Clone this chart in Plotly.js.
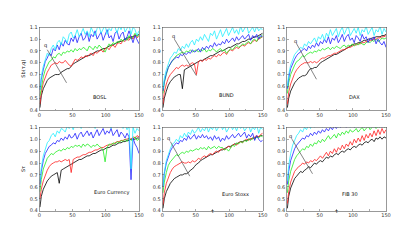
<!DOCTYPE html>
<html><head><meta charset="utf-8">
<script src="https://cdn.plot.ly/plotly-3.0.1.min.js"></script>
<style>html,body{margin:0;padding:0;background:#fff}#c{width:415px;height:243px}</style>
</head><body><div id="c"></div>
<script>
const T = [1,3,6,9,12,15,18,21,24,27,30,33,36,39,42,45,48,51,54,57,60,63,66,69,72,75,78,81,84,87,90,93,96,99,102,105,108,111,114,117,120,123,126,129,132,135,138,141,144,147,150];
const panelNames = ["BOSL","BUND","DAX","Euro Currency","Euro Stoxx","FIB 30"];
const seriesColors = ["#000000","#ff2020","#22ee22","#2020ff","#22eeff"];

// BOSL
const k1 = [0.42,0.52,0.58,0.62,0.65,0.67,0.68,0.69,0.70,0.70, 0.70,0.72,0.73,0.74,0.75,0.75,0.77,0.79,0.80,0.81, 0.82,0.83,0.84,0.85,0.86,0.86,0.87,0.88,0.89,0.90, 0.90,0.91,0.92,0.92,0.93,0.94,0.95,0.95,0.96,0.97, 0.98,0.98,0.99,1.00,1.01,1.01,1.02,1.02,1.03,1.03, 1.04];
const r1 = [0.45,0.55,0.63,0.68,0.72,0.75,0.78,0.79,0.80,0.79, 0.81,0.80,0.80,0.82,0.80,0.78,0.77,0.80,0.83,0.82, 0.83,0.85,0.84,0.86,0.85,0.87,0.88,0.86,0.89,0.88, 0.90,0.91,0.89,0.92,0.93,0.91,0.94,0.95,0.93,0.96, 0.97,0.96,0.99,0.98,1.00,0.99,1.02,1.00,1.04,1.01, 1.03];
const g1 = [0.52,0.60,0.68,0.74,0.78,0.81,0.82,0.85,0.84,0.87, 0.88,0.86,0.89,0.88,0.90,0.89,0.91,0.89,0.92,0.90, 0.92,0.91,0.93,0.92,0.90,0.94,0.93,0.91,0.94,0.92, 0.95,0.93,0.91,0.89,0.93,0.96,0.94,0.97,0.96,0.98, 0.97,1.00,0.98,1.01,0.99,1.03,1.00,1.02,1.05,1.02, 1.04];
const b1 = [0.57,0.66,0.74,0.81,0.84,0.88,0.86,0.92,0.90,0.95, 0.91,0.97,0.94,0.99,0.96,0.95,1.01,0.98,1.03,0.97, 1.02,1.05,0.99,1.01,1.06,0.98,1.04,1.02,1.07,1.00, 1.03,1.06,0.99,1.04,1.08,1.01,1.03,0.98,1.05,1.07, 1.00,1.04,1.06,0.99,1.02,1.07,1.01,0.97,1.03,0.99, 0.96];
const c1 = [0.58,0.69,0.77,0.83,0.88,0.86,0.92,0.95,0.91,0.97, 0.99,0.95,1.02,1.00,0.97,1.04,1.06,1.01,1.03,1.08, 1.02,1.05,1.09,1.04,1.07,1.02,1.10,1.06,1.03,1.09, 1.11,1.05,1.08,1.12,1.04,1.09,1.07,1.12,1.10,1.05, 1.11,1.08,1.13,1.06,1.09,1.12,1.04,1.10,1.08,1.03, 1.07];
// BUND
const k2 = [0.42,0.50,0.56,0.61,0.64,0.66,0.68,0.69,0.70,0.70, 0.58,0.74,0.75,0.76,0.77,0.78,0.79,0.80,0.81,0.82, 0.82,0.83,0.84,0.85,0.86,0.86,0.87,0.88,0.89,0.90, 0.90,0.91,0.92,0.93,0.93,0.94,0.95,0.96,0.96,0.97, 0.98,0.98,0.99,1.00,1.00,1.01,1.02,1.02,1.03,1.04, 1.05];
const r2 = [0.45,0.55,0.62,0.67,0.70,0.72,0.74,0.76,0.75,0.77, 0.78,0.77,0.78,0.77,0.79,0.80,0.79,0.70,0.81,0.82, 0.81,0.83,0.82,0.84,0.83,0.85,0.86,0.85,0.87,0.86, 0.88,0.89,0.87,0.90,0.91,0.90,0.92,0.93,0.92,0.94, 0.95,0.94,0.96,0.97,0.96,0.98,0.99,0.98,1.00,1.01, 1.02];
const g2 = [0.54,0.63,0.70,0.76,0.79,0.82,0.84,0.86,0.87,0.88, 0.89,0.88,0.90,0.89,0.91,0.89,0.90,0.91,0.89,0.91, 0.90,0.92,0.89,0.91,0.90,0.92,0.91,0.89,0.91,0.92, 0.90,0.91,0.88,0.90,0.92,0.91,0.93,0.95,0.93,0.94, 0.96,0.95,0.97,0.98,0.96,0.99,1.00,0.98,1.02,1.01, 1.04];
const b2 = [0.56,0.64,0.71,0.76,0.79,0.82,0.83,0.85,0.84,0.87, 0.86,0.88,0.87,0.89,0.88,0.91,0.89,0.90,0.92,0.89, 0.93,0.91,0.94,0.92,0.95,0.93,0.97,0.94,0.96,0.95, 0.98,0.96,1.00,0.97,0.99,1.01,0.98,1.02,0.99,1.01, 1.03,1.00,1.02,1.04,0.99,1.03,1.01,1.04,1.00,1.03, 1.02];
const c2 = [0.58,0.67,0.74,0.79,0.84,0.86,0.89,0.88,0.92,0.90, 0.94,0.92,0.96,0.93,0.97,0.99,0.95,1.00,0.98,1.02, 0.99,1.04,1.01,0.98,1.05,1.03,1.07,1.00,1.04,1.08, 1.02,1.06,1.09,1.03,1.07,1.10,1.05,1.08,1.04,1.11, 1.06,1.09,1.12,1.05,1.08,1.10,1.06,1.11,1.07,1.09, 1.08];
// DAX
const k3 = [0.42,0.50,0.56,0.60,0.63,0.65,0.67,0.68,0.69,0.69, 0.70,0.73,0.75,0.75,0.76,0.76,0.78,0.80,0.81,0.82, 0.83,0.84,0.85,0.86,0.87,0.87,0.88,0.89,0.90,0.91, 0.92,0.93,0.94,0.95,0.96,0.96,0.97,0.97,0.98,0.99, 0.99,1.00,1.00,1.01,1.01,1.02,1.02,1.02,1.03,1.03, 1.04];
const r3 = [0.45,0.55,0.62,0.67,0.71,0.74,0.76,0.78,0.79,0.80, 0.80,0.80,0.81,0.80,0.81,0.80,0.81,0.83,0.84,0.84, 0.85,0.86,0.86,0.87,0.88,0.88,0.89,0.90,0.91,0.91, 0.92,0.93,0.93,0.94,0.95,0.95,0.96,0.96,0.97,0.97, 0.98,0.98,0.99,0.99,1.00,1.00,1.01,1.01,1.02,1.02, 1.03];
const g3 = [0.54,0.63,0.70,0.75,0.78,0.81,0.82,0.84,0.86,0.85, 0.87,0.88,0.89,0.88,0.90,0.89,0.91,0.90,0.92,0.91, 0.92,0.93,0.91,0.93,0.92,0.94,0.93,0.92,0.94,0.95, 0.93,0.95,0.94,0.96,0.94,0.96,0.95,0.97,0.96,0.95, 0.97,0.98,0.97,0.99,0.98,1.00,0.98,0.99,1.01,1.00, 1.01];
const b3 = [0.58,0.67,0.75,0.80,0.83,0.86,0.88,0.89,0.91,0.92, 0.90,0.94,0.92,0.95,0.93,0.97,0.94,0.98,0.96,1.00, 0.97,1.02,0.96,1.01,0.99,1.03,0.97,1.00,1.04,0.98, 1.02,1.04,0.99,1.01,0.97,1.03,1.01,0.98,1.04,1.00, 1.02,0.97,1.01,0.99,1.02,0.96,1.00,0.97,0.95,0.98, 0.93];
const c3 = [0.60,0.70,0.78,0.83,0.87,0.89,0.91,0.93,0.92,0.96, 0.94,0.98,0.96,0.99,1.01,0.97,1.02,1.00,1.04,0.99, 1.05,1.02,1.08,1.03,1.06,1.09,1.02,1.07,1.10,1.04, 1.08,1.11,1.03,1.06,1.09,1.05,1.10,1.03,1.08,1.06, 1.11,1.04,1.07,1.10,1.03,1.08,1.06,1.11,1.04,1.09, 1.06];
// Euro Currency
const k4 = [0.43,0.52,0.58,0.62,0.65,0.67,0.69,0.70,0.71,0.72, 0.63,0.74,0.75,0.76,0.77,0.78,0.79,0.80,0.81,0.82, 0.83,0.83,0.84,0.85,0.86,0.86,0.87,0.88,0.88,0.89, 0.90,0.91,0.91,0.92,0.93,0.93,0.94,0.95,0.95,0.96, 0.97,0.97,0.98,0.98,0.99,0.99,1.00,1.00,1.00,1.01, 1.01];
const r4 = [0.50,0.58,0.65,0.70,0.74,0.77,0.79,0.80,0.81,0.81, 0.82,0.81,0.82,0.83,0.82,0.83,0.72,0.83,0.84,0.85, 0.85,0.86,0.87,0.87,0.88,0.89,0.89,0.90,0.91,0.91, 0.92,0.93,0.93,0.94,0.95,0.95,0.96,0.96,0.97,0.98, 0.98,0.99,0.99,1.00,1.00,1.01,1.00,1.02,1.01,1.03, 1.02];
const g4 = [0.56,0.66,0.75,0.80,0.84,0.86,0.88,0.87,0.89,0.90, 0.91,0.90,0.92,0.91,0.93,0.92,0.94,0.93,0.95,0.94, 0.95,0.93,0.96,0.94,0.96,0.95,0.93,0.95,0.94,0.96, 0.94,0.93,0.91,0.81,0.93,0.96,0.95,0.97,0.96,0.98, 0.97,0.99,0.98,1.00,0.98,1.01,0.99,1.00,1.02,0.99, 1.00];
const b4 = [0.62,0.73,0.82,0.88,0.91,0.94,0.95,0.97,0.96,0.99, 0.98,1.01,0.99,1.02,1.00,1.04,1.01,1.02,1.05,1.00, 1.04,1.06,1.02,1.05,1.07,1.03,1.06,1.01,1.05,1.08, 1.03,1.06,1.09,1.04,1.07,1.05,1.09,1.03,1.06,1.08, 1.02,1.06,1.04,1.01,1.05,1.02,0.66,1.01,0.96,0.93, 0.88];
const c4 = [0.65,0.76,0.86,0.92,0.97,0.99,1.03,1.05,1.02,1.07, 1.05,1.09,1.08,1.06,1.11,1.09,1.12,1.08,1.13,1.10, 1.12,1.09,1.13,1.11,1.12,1.10,1.13,1.12,1.09,1.13, 1.11,1.12,1.10,1.13,1.11,1.12,1.09,1.13,1.12,1.10, 1.13,1.11,1.09,1.12,1.08,1.11,0.75,1.10,1.05,1.09, 1.07];
// Euro Stoxx
const k5 = [0.42,0.50,0.56,0.60,0.63,0.65,0.67,0.68,0.69,0.70, 0.70,0.71,0.71,0.72,0.74,0.75,0.77,0.79,0.80,0.82, 0.83,0.84,0.85,0.86,0.87,0.87,0.88,0.89,0.90,0.91, 0.91,0.92,0.93,0.94,0.94,0.95,0.96,0.96,0.97,0.98, 0.98,0.99,0.99,1.00,1.00,1.01,1.01,1.02,1.02,1.03, 1.03];
const r5 = [0.45,0.55,0.63,0.68,0.72,0.75,0.77,0.78,0.79,0.80, 0.81,0.80,0.80,0.81,0.80,0.82,0.81,0.82,0.84,0.83, 0.85,0.86,0.85,0.87,0.88,0.87,0.89,0.90,0.89,0.91, 0.92,0.91,0.93,0.94,0.93,0.95,0.96,0.95,0.97,0.98, 0.97,0.99,1.00,0.99,1.01,1.00,1.02,1.03,1.02,1.04, 1.05];
const g5 = [0.55,0.64,0.72,0.78,0.81,0.83,0.85,0.87,0.86,0.88, 0.89,0.88,0.90,0.89,0.91,0.90,0.91,0.92,0.91,0.93, 0.92,0.93,0.91,0.94,0.92,0.93,0.94,0.92,0.94,0.93, 0.93,0.91,0.92,0.90,0.93,0.95,0.94,0.97,0.96,0.98, 0.97,0.99,0.98,1.00,0.99,1.01,1.00,1.02,1.01,1.03, 1.02];
const b5 = [0.60,0.71,0.80,0.86,0.90,0.93,0.95,0.97,0.96,0.99, 0.98,1.01,0.99,1.03,1.00,1.02,1.04,1.00,1.03,1.01, 1.04,1.01,1.03,1.00,1.02,0.99,1.03,1.00,1.02,0.98, 1.01,0.99,1.03,1.00,1.02,1.04,1.01,1.03,1.05,1.02, 1.04,1.06,1.01,1.04,1.02,1.05,0.99,1.03,1.00,0.98, 0.99];
const c5 = [0.60,0.72,0.82,0.88,0.92,0.96,0.97,1.00,0.98,1.03, 1.01,1.05,1.02,1.06,1.04,1.08,1.05,1.07,1.10,1.06, 1.09,1.07,1.11,1.06,1.10,1.08,1.12,1.07,1.10,1.13, 1.08,1.11,1.06,1.10,1.12,1.08,1.11,1.07,1.12,1.09, 1.11,1.07,1.10,1.12,1.06,1.10,1.08,1.12,1.05,1.10, 1.08];
// FIB 30
const k6 = [0.42,0.52,0.59,0.64,0.67,0.69,0.71,0.73,0.72,0.74, 0.75,0.77,0.76,0.78,0.80,0.79,0.81,0.82,0.81,0.83, 0.85,0.84,0.86,0.85,0.87,0.88,0.87,0.89,0.90,0.89, 0.91,0.92,0.91,0.93,0.94,0.93,0.95,0.96,0.95,0.97, 0.98,0.97,0.99,1.00,0.98,1.01,1.00,1.02,1.00,1.02, 1.01];
const r6 = [0.46,0.56,0.64,0.69,0.73,0.75,0.77,0.78,0.80,0.79, 0.81,0.80,0.82,0.81,0.83,0.82,0.84,0.86,0.84,0.87, 0.89,0.86,0.90,0.88,0.92,0.89,0.93,0.91,0.95,0.92, 0.96,0.94,0.98,0.95,1.00,0.97,1.01,0.98,1.03,0.99, 1.04,1.01,1.05,1.02,1.07,1.03,1.08,1.04,1.09,1.05, 1.08];
const g6 = [0.55,0.65,0.73,0.79,0.83,0.86,0.88,0.90,0.92,0.91, 0.94,0.93,0.96,0.94,0.97,0.96,0.99,0.97,1.00,0.98, 1.01,1.03,1.00,1.02,1.04,1.01,1.05,1.03,1.06,1.04, 1.07,1.05,1.08,1.06,1.07,1.09,1.06,1.08,1.10,1.07, 1.09,1.11,1.08,1.10,1.12,1.09,1.11,1.10,1.12,1.10, 1.11];
const b6 = [0.62,0.73,0.82,0.88,0.92,0.95,0.97,0.99,1.01,1.00, 1.03,1.02,1.05,1.03,1.06,1.04,1.07,1.05,1.08,1.06, 1.09,1.07,1.10,1.08,1.11,1.09,1.12,1.10,1.11,1.13, 1.10,1.12,1.11,1.13,1.10,1.12,1.13,1.11,1.12,1.10, 1.13,1.11,1.12,1.13,1.10,1.12,1.11,1.13,1.10,1.12, 1.11];
const c6 = [0.65,0.78,0.88,0.95,0.99,1.03,1.05,1.08,1.06,1.10, 1.08,1.12,1.09,1.13,1.10,1.12,1.11,1.13,1.10,1.12, 1.11,1.13,1.10,1.12,1.11,1.13,1.10,1.12,1.11,1.13, 1.11,1.13,1.10,1.12,1.11,1.13,1.10,1.12,1.11,1.13, 1.11,1.13,1.10,1.12,1.11,1.13,1.10,1.12,1.11,1.13, 1.12];

const panelSeries = [[k1,r1,g1,b1,c1],[k2,r2,g2,b2,c2],[k3,r3,g3,b3,c3],[k4,r4,g4,b4,c4],[k5,r5,g5,b5,c5],[k6,r6,g6,b6,c6]];

// annotation: q arrow line per panel (null = none)
const qLineX0 = [12,18,15,null,12,8];
const qLineY0 = [0.91,1.00,0.96,null,0.98,1.00];
const qLineX1 = [41,51,45,null,41,39];
const qLineY1 = [0.63,0.69,0.66,null,0.69,0.71];
const qLabelX = [10,16,14,null,10,6];
const qLabelY = [0.95,1.02,0.98,null,1.01,1.02];
const nameX = [91,96,103,109,109,95];
const nameY = [0.51,0.53,0.51,0.555,0.54,0.54];

const W = 415, H = 243;
const xDom = [[39.3,139],[162.3,262.7],[286.7,386]];
const yDom = [[27.3,110],[127.3,210.7]];

const traces = [];
const layout = {width:W,height:H,margin:{l:0,r:0,t:0,b:0},showlegend:false,
  paper_bgcolor:'#fff',plot_bgcolor:'#fff',font:{family:'DejaVu Sans, Liberation Sans, sans-serif',size:5,color:'#222'},
  shapes:[],annotations:[]};

for (let p=0;p<6;p++){
  const row = Math.floor(p/3), col = p%3;
  const sfx = p===0?'':String(p+1);
  const xa = 'x'+sfx, ya = 'y'+sfx;
  panelSeries[p].forEach((s,i)=>{
    traces.push({x:T,y:s,type:'scatter',mode:'lines',xaxis:xa,yaxis:ya,
      line:{color:seriesColors[i],width:0.8},hoverinfo:'skip'});
  });
  const axBase = {showline:true,mirror:true,linecolor:'#555',linewidth:0.6,showgrid:false,zeroline:false,
    ticks:'inside',ticklen:2,tickwidth:0.5,tickcolor:'#555',tickfont:{size:5,color:'#333'}};
  layout['xaxis'+sfx] = Object.assign({},axBase,{domain:[xDom[col][0]/W,xDom[col][1]/W],range:[0,150],
    tickvals:[0,50,100,150],anchor:ya,minor:{tickvals:[25,75,125],ticks:'inside',ticklen:1.5,tickcolor:'#555'}});
  layout['yaxis'+sfx] = Object.assign({},axBase,{domain:[1-yDom[row][1]/H,1-yDom[row][0]/H],range:[0.4,1.1],
    tickvals:[0.4,0.5,0.6,0.7,0.8,0.9,1.0,1.1],tickformat:'.1f',anchor:xa});
  if (qLineX0[p]!==null){
    layout.shapes.push({type:'line',xref:xa,yref:ya,x0:qLineX0[p],y0:qLineY0[p],x1:qLineX1[p],y1:qLineY1[p],
      line:{color:'#333',width:0.6}});
    layout.annotations.push({xref:xa,yref:ya,x:qLabelX[p],y:qLabelY[p],text:'q',showarrow:false,font:{size:5,color:'#111'}});
  }
  layout.annotations.push({xref:xa,yref:ya,x:nameX[p],y:nameY[p],text:panelNames[p],showarrow:false,font:{size:5,color:'#111'}});
}
layout.yaxis.title = {text:'Sb(τ,q)',font:{size:5},standoff:3};
layout.yaxis4.title = {text:'Sτ',font:{size:5},standoff:3};
layout.annotations.push({xref:'x5',yref:'paper',x:75,y:1-216/H,text:'τ',showarrow:false,font:{size:5}});
layout.annotations.push({xref:'x6',yref:'paper',x:75,y:1-216/H,text:'τ',showarrow:false,font:{size:5}});

Plotly.newPlot('c',traces,layout,{staticPlot:true,displayModeBar:false});
</script></body></html>
